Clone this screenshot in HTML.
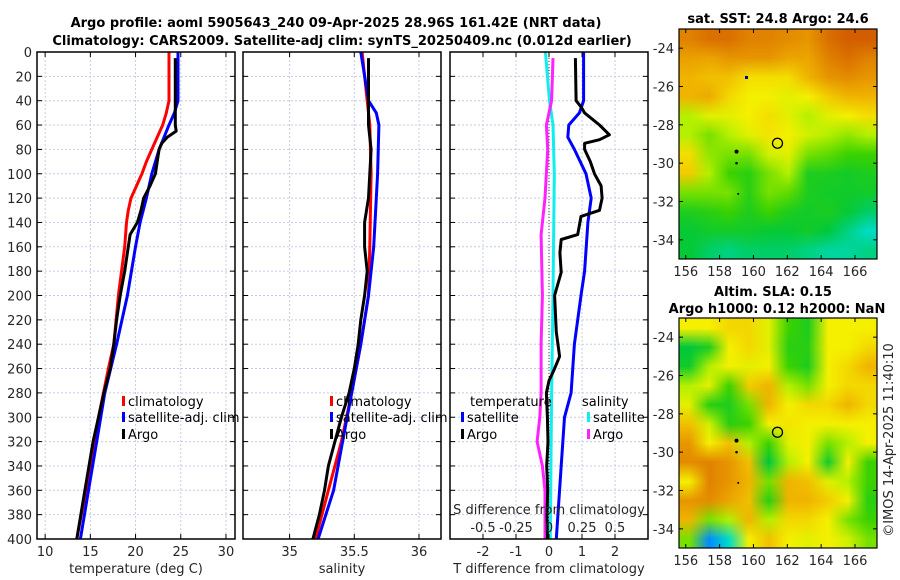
<!DOCTYPE html>
<html><head><meta charset="utf-8"><style>
body{margin:0;background:#fff}
#wrap{position:relative;width:900px;height:580px}
svg{display:block;position:absolute;left:0;top:0;z-index:1;font-family:"DejaVu Sans","Liberation Sans",sans-serif}
canvas.map{position:absolute;z-index:0;width:198px;height:230px;image-rendering:auto}
.tk{font-size:13px;fill:#262626}
.tt{font-size:13px;font-weight:bold;fill:#000}
.lg{font-size:13px;fill:#000}
</style></head><body>
<div id="wrap">
<canvas class="map" id="cv1" width="10" height="12" style="left:679px;top:29px"></canvas>
<canvas class="map" id="cv2" width="10" height="12" style="left:679px;top:318px"></canvas>
<svg id="fig" width="900" height="580" viewBox="0 0 900 580" xmlns="http://www.w3.org/2000/svg">
<text class="tt" x="336" y="27" text-anchor="middle">Argo profile: aoml 5905643_240 09-Apr-2025 28.96S 161.42E (NRT data)</text>
<text class="tt" x="342" y="45" text-anchor="middle">Climatology: CARS2009. Satellite-adj clim: synTS_20250409.nc (0.012d earlier)</text>
<g id="grids"></g>
<g id="curves"></g>
<g id="frames"></g>
<g id="maps"></g>
<text class="tt" x="778" y="23" text-anchor="middle">sat. SST: 24.8 Argo: 24.6</text>
<text class="tt" x="773" y="296" text-anchor="middle">Altim. SLA: 0.15</text>
<text class="tt" x="777" y="313" text-anchor="middle">Argo h1000: 0.12 h2000: NaN</text>
<text class="tk" transform="translate(893,440) rotate(-90)" text-anchor="middle">©IMOS 14-Apr-2025 11:40:10</text>
</svg>
</div>
<script>
const depthTicks=[0,20,40,60,80,100,120,140,160,180,200,220,240,260,280,300,320,340,360,380,400];
const tempTicks=[10,15,20,25,30];
const salTicks=[35,35.5,36];
const tdiffTicks=[-2,-1,0,1,2];
const sdiffTicks=[-0.5,-0.25,0,0.25,0.5];
const sdiffLabels=["-0.5","-0.25","0","0.25","0.5"];
const tClimD=[0,40,50,60,70,80,90,100,110,120,130,140,160,200,240,260,300,340,400];
const tClimV=[23.7,23.7,23.4,23.0,22.4,21.8,21.2,20.7,20.1,19.5,19.2,19.0,18.8,18.1,17.6,17.0,15.9,15.0,13.5];
const tSatD=[0,40,50,60,80,100,120,140,160,200,240,280,320,360,400];
const tSatV=[24.7,24.7,24.3,23.7,22.6,21.8,21.2,20.5,20.0,19.1,17.9,16.6,15.7,14.8,13.9];
const tArgoD=[5,60,65,70,75,80,90,100,110,120,130,140,150,160,180,200,220,240,260,280,320,360,400];
const tArgoV=[24.4,24.4,24.5,23.5,22.9,22.6,22.4,22.2,21.6,20.9,20.6,20.2,19.4,19.2,18.8,18.3,17.9,17.6,17.2,16.5,15.3,14.4,13.5];
const sClimD=[0,40,60,100,160,200,240,280,320,360,400];
const sClimV=[35.56,35.60,35.62,35.63,35.62,35.61,35.55,35.48,35.40,35.30,35.20];
const sSatD=[0,40,50,60,100,160,200,240,280,320,360,400];
const sSatV=[35.55,35.61,35.67,35.69,35.68,35.65,35.61,35.55,35.48,35.41,35.34,35.22];
const sArgoD=[5,40,60,80,120,140,160,180,200,220,240,260,280,300,320,340,360,380,400];
const sArgoV=[35.61,35.61,35.61,35.63,35.61,35.58,35.58,35.60,35.58,35.55,35.53,35.50,35.46,35.40,35.35,35.30,35.27,35.23,35.18];
const dtSatD=[0,40,50,60,70,80,100,120,140,180,200,240,280,300,340,400];
const dtSatV=[1.05,1.05,0.92,0.60,0.57,0.77,1.12,1.28,1.18,1.08,0.97,0.77,0.67,0.47,0.37,0.22];
const dtArgoD=[5,40,45,50,60,68,72,75,80,90,100,110,120,130,135,150,154,165,181,200,230,250,260,270,280,300,320,340,360,380,400];
const dtArgoV=[0.80,0.82,0.97,1.08,1.53,1.83,1.53,1.08,1.08,1.25,1.38,1.58,1.61,1.53,0.97,0.87,0.37,0.33,0.37,0.17,0.22,0.32,0.17,0.0,-0.08,-0.05,-0.03,-0.07,-0.04,-0.06,-0.05];
const dsSatD=[0,40,60,100,200,280,400];
const dsSatV=[-0.027,0.004,0.03,0.04,0.03,0.02,0.01];
const dsArgoD=[5,40,60,80,120,140,150,200,240,280,300,320,340,360,400];
const dsArgoV=[0.03,0.02,-0.02,-0.01,-0.03,-0.05,-0.06,-0.05,-0.06,-0.06,-0.07,-0.09,-0.05,-0.03,-0.03];
const lonTicks=[156,158,160,162,164,166];
const latTicks=[-24,-26,-28,-30,-32,-34];
const sstGrid=[
[.82,.85,.85,.82,.82,.8,.78,.85,.88,.88],
[.76,.75,.78,.78,.78,.75,.75,.82,.85,.82],
[.72,.7,.7,.65,.65,.65,.72,.78,.8,.78],
[.72,.74,.66,.62,.62,.6,.62,.68,.72,.72],
[.55,.6,.6,.62,.65,.6,.55,.6,.62,.65],
[.55,.5,.55,.6,.64,.62,.58,.55,.52,.55],
[.65,.52,.5,.5,.58,.6,.5,.48,.45,.45],
[.68,.55,.45,.42,.5,.55,.4,.4,.38,.4],
[.5,.5,.5,.42,.5,.48,.4,.38,.38,.38],
[.4,.42,.45,.4,.45,.4,.38,.4,.36,.32],
[.36,.38,.38,.38,.36,.36,.38,.35,.3,.25],
[.36,.32,.3,.32,.32,.32,.3,.28,.28,.3]];
const slaGrid=[
[.62,.62,.66,.66,.6,.45,.4,.62,.62,.62],
[.35,.4,.62,.66,.6,.42,.42,.62,.62,.66],
[.38,.55,.62,.6,.62,.45,.4,.62,.66,.72],
[.55,.6,.45,.68,.72,.55,.5,.62,.66,.66],
[.6,.42,.4,.5,.72,.62,.66,.66,.72,.66],
[.7,.58,.42,.45,.62,.64,.62,.62,.62,.62],
[.78,.62,.7,.55,.45,.6,.62,.5,.55,.62],
[.8,.82,.78,.7,.35,.55,.62,.38,.62,.45],
[.62,.82,.78,.72,.5,.72,.7,.6,.55,.45],
[.78,.8,.75,.7,.42,.72,.72,.68,.62,.42],
[.72,.5,.55,.72,.55,.66,.66,.62,.5,.45],
[.5,.15,.25,.62,.7,.62,.6,.62,.58,.5]];
const argoLon=161.42, argoLat=-28.96;

const NS='http://www.w3.org/2000/svg';
function mk(tag,attrs,parent){const e=document.createElementNS(NS,tag);for(const k in attrs)e.setAttribute(k,attrs[k]);parent.appendChild(e);return e;}
const Y0=52,Y1=539;
const yD=d=>Y0+d*(Y1-Y0)/400;
const P=[{x0:37,x1:235,lo:9.1,hi:31},{x0:243,x1:441,lo:34.64,hi:36.17},{x0:450,x1:648,lo:-3,hi:3}];
const sc=(p,v)=>P[p].x0+(v-P[p].lo)*(P[p].x1-P[p].x0)/(P[p].hi-P[p].lo);
const xS3=v=>sc(2,v*4);
const grids=document.getElementById('grids'),curves=document.getElementById('curves'),frames=document.getElementById('frames');

function vticks(p,vals,fn){
  vals.forEach(v=>{const x=fn(v);
    const g=mk('line',{x1:x,x2:x,y1:Y0,y2:Y1,stroke:'#c4cbe8','stroke-width':1,'stroke-dasharray':'2,2'},grids);
    
    
    mk('line',{x1:x,x2:x,y1:Y1,y2:Y1-5,stroke:'#000'},frames);
    mk('line',{x1:x,x2:x,y1:Y0,y2:Y0+5,stroke:'#000'},frames);
  });
}
for(let p=0;p<3;p++){
  depthTicks.forEach(d=>{const y=yD(d);
    const g=mk('line',{x1:P[p].x0,x2:P[p].x1,y1:y,y2:y,stroke:'#c4cbe8','stroke-width':1,'stroke-dasharray':'2,2'},grids);
    
    
    mk('line',{x1:P[p].x0,x2:P[p].x0+5,y1:y,y2:y,stroke:'#000'},frames);
    mk('line',{x1:P[p].x1,x2:P[p].x1-5,y1:y,y2:y,stroke:'#000'},frames);
  });
  const f=mk('rect',{x:P[p].x0,y:Y0,width:P[p].x1-P[p].x0,height:Y1-Y0,fill:'none',stroke:'#000','stroke-width':1.5},frames);
  
  
}
depthTicks.forEach(d=>{const t=mk('text',{x:32,y:yD(d)+5,'text-anchor':'end',class:'tk'},frames);t.textContent=d;
  
  });
vticks(0,tempTicks,v=>sc(0,v));
vticks(1,salTicks,v=>sc(1,v));
vticks(2,tdiffTicks,v=>sc(2,v));
function xlab(vals,fn,labels,y,name){vals.forEach((v,i)=>{const t=mk('text',{x:fn(v),y:y,'text-anchor':'middle',class:'tk'},frames);t.textContent=labels?labels[i]:v;
  
  });}
xlab(tempTicks,v=>sc(0,v),null,556,'temp-tick-label');
xlab(salTicks,v=>sc(1,v),null,556,'salinity-tick-label');
xlab(tdiffTicks,v=>sc(2,v),null,556,'tdiff-tick-label');
xlab(sdiffTicks,xS3,sdiffLabels,532,'sdiff-tick-label');
function lbl(x,y,s,name,cls,anchor){const t=mk('text',{x:x,y:y,'text-anchor':anchor||'middle',class:cls||'tk'},frames);t.textContent=s;
  
  return t;}
lbl(136,573,'temperature (deg C)','x-axis-title-temperature');
lbl(342,573,'salinity','x-axis-title-salinity');
lbl(549,573,'T difference from climatology','x-axis-title-tdiff');
lbl(549,514,'S difference from climatology','x-axis-title-sdiff');
const z=mk('line',{x1:sc(2,0),x2:sc(2,0),y1:Y0,y2:Y1,stroke:'#444','stroke-width':1,'stroke-dasharray':'1,2'},grids);


function line(D,V,fn,color,name,w){const pts=D.map((d,i)=>fn(V[i]).toFixed(1)+','+yD(d).toFixed(1)).join(' ');
  const e=mk('polyline',{points:pts,fill:'none',stroke:color,'stroke-width':w||3,'stroke-linejoin':'round'},curves);
  
  }
line(tClimD,tClimV,v=>sc(0,v),'#f00','temp-climatology-line');
line(tSatD,tSatV,v=>sc(0,v),'#00f','temp-satellite-line');
line(tArgoD,tArgoV,v=>sc(0,v),'#000','temp-argo-line');
line(sClimD,sClimV,v=>sc(1,v),'#f00','salinity-climatology-line');
line(sSatD,sSatV,v=>sc(1,v),'#00f','salinity-satellite-line');
line(sArgoD,sArgoV,v=>sc(1,v),'#000','salinity-argo-line');
line(dsSatD,dsSatV,xS3,'#1ee','sdiff-satellite-line');
line(dsArgoD,dsArgoV,xS3,'#f2f','sdiff-argo-line');
line(dtSatD,dtSatV,v=>sc(2,v),'#00f','tdiff-satellite-line');
line(dtArgoD,dtArgoV,v=>sc(2,v),'#000','tdiff-argo-line');
function leg(x,y,color,s,name){const r=mk('rect',{x:x,y:y-10,width:3,height:10,fill:color},frames);
  
  
  lbl(x+6,y,s,name,'lg','start');}
leg(122,406,'#f00','climatology','legend-climatology');
leg(122,422,'#00f','satellite-adj. clim','legend-satellite-adj');
leg(122,439,'#000','Argo','legend-argo');
leg(330,406,'#f00','climatology','legend2-climatology');
leg(330,422,'#00f','satellite-adj. clim','legend2-satellite-adj');
leg(330,439,'#000','Argo','legend2-argo');
lbl(470,406,'temperature','legend3-temperature-heading','lg','start');
leg(461,422,'#00f','satellite','legend3-t-satellite');
leg(461,439,'#000','Argo','legend3-t-argo');
lbl(582,406,'salinity','legend3-salinity-heading','lg','start');
leg(587,422,'#1ee','satellite','legend3-s-satellite');
leg(587,439,'#f2f','Argo','legend3-s-argo');

const stops=[[0,[0,0,255]],[.15,[0,140,255]],[.25,[0,220,200]],[.35,[0,200,60]],[.45,[60,210,0]],[.55,[180,240,0]],[.62,[245,240,0]],[.72,[240,180,0]],[.82,[225,130,0]],[.92,[200,70,0]],[1,[160,0,0]]];
function cmap(v){for(let i=1;i<stops.length;i++){if(v<=stops[i][0]){const a=stops[i-1],b=stops[i],t=(v-a[0])/(b[0]-a[0]);
  return 'rgb('+a[1].map((c,k)=>Math.round(c+(b[1][k]-c)*t)).join(',')+')';}}return 'rgb(160,0,0)';}
const maps=document.getElementById('maps');
const LON0=155.6,LON1=167.3,LAT0=-23,LAT1=-35;
function drawMap(grid,top,cvId,name){
  const mx0=679,mx1=877,my0=top,my1=top+230;
  const lx=v=>mx0+(v-LON0)*(mx1-mx0)/(LON1-LON0);
  const ly=v=>my0+(v-LAT0)*(my1-my0)/(LAT1-LAT0);
  const ctx=document.getElementById(cvId).getContext('2d');
  grid.forEach((row,r)=>row.forEach((v,c)=>{ctx.fillStyle=cmap(v);ctx.fillRect(c,r,1,1);}));
  const f=mk('rect',{x:mx0,y:my0,width:mx1-mx0,height:my1-my0,fill:'none',stroke:'#000','stroke-width':1.2},maps);
  
  
  lonTicks.forEach(v=>{const x=lx(v);mk('line',{x1:x,x2:x,y1:my1,y2:my1-4,stroke:'#000'},maps);mk('line',{x1:x,x2:x,y1:my0,y2:my0+4,stroke:'#000'},maps);
    const t=mk('text',{x:x,y:my1+17,'text-anchor':'middle',class:'tk'},maps);t.textContent=v;
    
    });
  latTicks.forEach(v=>{const y=ly(v);mk('line',{x1:mx0,x2:mx0+4,y1:y,y2:y,stroke:'#000'},maps);mk('line',{x1:mx1,x2:mx1-4,y1:y,y2:y,stroke:'#000'},maps);
    const t=mk('text',{x:mx0-5,y:y+5,'text-anchor':'end',class:'tk'},maps);t.textContent=v;
    
    });
  [[159.0,-29.4,2],[159.0,-30.0,1.3],[159.1,-31.6,1]].forEach(p=>{mk('circle',{cx:lx(p[0]),cy:ly(p[1]),r:p[2],fill:'#000'},maps);});
  const c=mk('circle',{cx:lx(argoLon),cy:ly(argoLat),r:5,fill:'none',stroke:'#000','stroke-width':1.3},maps);
  
  
}
drawMap(sstGrid,29,'cv1','sst-map');
const bs=mk('rect',{x:745,y:76,width:3,height:3,fill:'#00a'},maps);


drawMap(slaGrid,318,'cv2','sla-map');
</script>
</body></html>
